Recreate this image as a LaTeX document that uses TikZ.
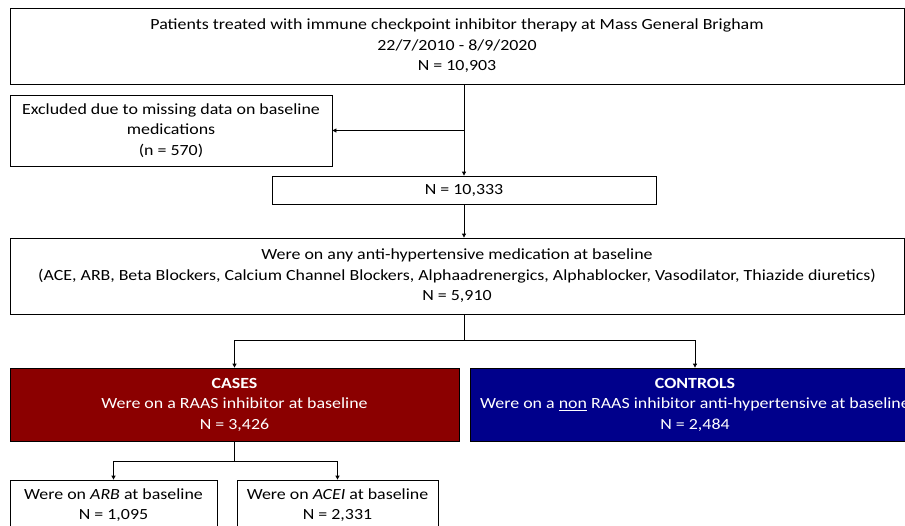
\documentclass[tikz,border=0pt]{standalone}
\usepackage{fontspec}
\setmainfont{Carlito}[FakeStretch=1.155]
\usetikzlibrary{arrows.meta}
\definecolor{casered}{RGB}{139,0,0}
\definecolor{controlblue}{RGB}{0,0,139}
\begin{document}
\begin{tikzpicture}[x=1pt, y=1pt,
  box/.style={rectangle, draw, line width=0.8pt, align=center, inner sep=0pt, font=\fontsize{15.5}{20.5}\selectfont},
  arr/.style={-{Triangle[length=4pt, width=4pt]}, line width=0.8pt},
  link/.style={line width=0.8pt}]
  \clip (0,0) rectangle (905,-525);
  % Nodes
  \node (ALL) [box, minimum width=894pt, minimum height=76pt] at (457, -46) {Patients treated with immune checkpoint inhibitor therapy at Mass General Brigham\\22/7/2010 - 8/9/2020\\N = 10,903};
  \node (EXCL) [box, minimum width=322pt, minimum height=71pt] at (171, -130.5) {Excluded due to missing data on baseline\\medications\\(n = 570)};
  \node (KEPT) [box, minimum width=384pt, minimum height=28pt] at (464, -190) {N = 10,333};
  \node (AHT) [box, minimum width=894pt, minimum height=76pt] at (457, -276) {Were on any anti-hypertensive medication at baseline\\(ACE, ARB, Beta Blockers, Calcium Channel Blockers, Alphaadrenergics, Alphablocker, Vasodilator, Thiazide diuretics)\\N = 5,910};
  \node (CASES) [box, fill=casered, text=white, minimum width=449pt, minimum height=73pt] at (234.5, -404.5) {\textbf{CASES}\\Were on a RAAS inhibitor at baseline\\N = 3,426};
  \node (CTRL) [box, fill=controlblue, text=white, minimum width=450pt, minimum height=73pt] at (695, -404.5) {\textbf{CONTROLS}\\Were on a \underline{non} RAAS inhibitor anti-hypertensive at baseline\\N = 2,484};
  \node (ARB) [box, minimum width=207pt, minimum height=50pt] at (113.5, -505) {Were on \textit{ARB} at baseline\\N = 1,095};
  \node (ACEI) [box, minimum width=201pt, minimum height=50pt] at (337.5, -505) {Were on \textit{ACEI} at baseline\\N = 2,331};
  % Split points
  \coordinate (SPLIT1) at (464, -340);
  \coordinate (SPLIT2) at (234, -461);
  % Arrows
  \draw[arr] (ALL.south -| KEPT) -- (KEPT);
  \draw[arr] (EXCL.east -| KEPT) -- (EXCL.east);
  \draw[arr] (KEPT) -- (KEPT |- AHT.north);
  \draw[link] (AHT.south -| SPLIT1) -- (SPLIT1);
  \draw[arr] (SPLIT1) -| (CASES.north);
  \draw[arr] (SPLIT1) -| (CTRL.north);
  \draw[link] (CASES.south -| SPLIT2) -- (SPLIT2);
  \draw[arr] (SPLIT2) -| (ARB.north);
  \draw[arr] (SPLIT2) -| (ACEI.north);
\end{tikzpicture}
\end{document}
